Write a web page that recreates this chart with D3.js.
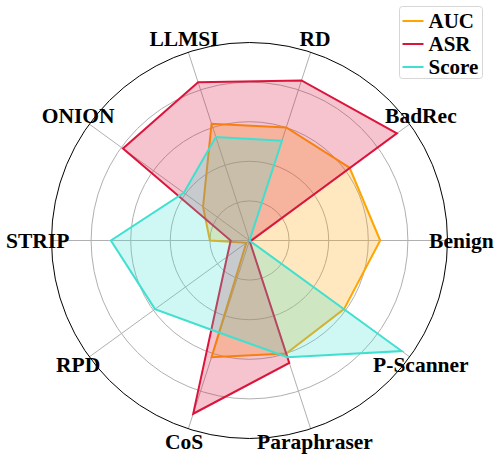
<!DOCTYPE html>
<html>
<head>
<meta charset="utf-8">
<script src="https://cdn.jsdelivr.net/npm/d3@7"></script>
<style>
  body { margin: 0; background: #fff; }
  svg text { font-family: "Liberation Serif", "Times New Roman", serif; font-weight: bold; }
</style>
</head>
<body>
<svg width="499" height="457"></svg>
<script>
// axes, counter-clockwise starting at the right
var categories = ["Benign", "BadRec", "RD", "LLMSI", "ONION", "STRIP", "RPD", "CoS", "Paraphraser", "P-Scanner"];
var auc   = [0.66, 0.625, 0.60, 0.62, 0.29, 0.20, 0.02, 0.62, 0.60, 0.59];
var asr   = [0.01, 0.92, 0.85, 0.84, 0.79, 0.095, 0.14, 0.92, 0.65, 0.0];
var score = [0.0, 0.0, 0.53, 0.55, 0.41, 0.70, 0.59, 0.49, 0.62, 0.95];
var rings = [0.2, 0.4, 0.6, 0.8];

var series = [
    {name: "AUC", values: auc, color: "#FFA500"},
    {name: "ASR", values: asr, color: "#DC143C"},
    {name: "Score", values: score, color: "#40E0D0"}
];

var svg = d3.select("svg"),
    cx = 249.5, cy = 240.5,
    R = 198,
    g = svg.append("g").attr("transform", "translate(" + cx + "," + cy + ")");

var r = d3.scaleLinear().domain([0, 1]).range([0, R]);
var angle = d3.scaleLinear().domain([0, categories.length]).range([0, 2 * Math.PI]);

function px(i, v) { return r(v) * Math.cos(angle(i)); }
function py(i, v) { return -r(v) * Math.sin(angle(i)); }

// grid
g.selectAll(".ring")
    .data(rings)
    .enter().append("circle")
    .attr("r", function(d) { return r(d); })
    .attr("fill", "none")
    .attr("stroke", "#b0b0b0")
    .attr("stroke-width", 1);

g.selectAll(".spoke")
    .data(categories)
    .enter().append("line")
    .attr("x1", 0).attr("y1", 0)
    .attr("x2", function(d, i) { return px(i, 1); })
    .attr("y2", function(d, i) { return py(i, 1); })
    .attr("stroke", "#b0b0b0")
    .attr("stroke-width", 1);

var line = d3.line()
    .x(function(d, i) { return px(i, d); })
    .y(function(d, i) { return py(i, d); })
    .curve(d3.curveLinearClosed);

series.forEach(function(s) {
    g.append("path")
        .attr("d", line(s.values))
        .attr("fill", s.color)
        .attr("fill-opacity", 0.25)
        .attr("stroke", s.color)
        .attr("stroke-width", 2)
        .attr("stroke-linejoin", "miter");
});

// outer frame
g.append("circle")
    .attr("r", r(1))
    .attr("fill", "none")
    .attr("stroke", "#000")
    .attr("stroke-width", 1);

// axis labels
g.selectAll(".label")
    .data(categories)
    .enter().append("text")
    .attr("x", function(d, i) { return px(i, 1.07); })
    .attr("y", function(d, i) { return py(i, 1.07); })
    .attr("dy", "0.33em")
    .attr("text-anchor", "middle")
    .style("font-size", "21.5px")
    .text(function(d) { return d; });

// legend
var legend = svg.append("g").attr("transform", "translate(399.5,6.5)");
legend.append("rect")
    .attr("width", 83).attr("height", 72)
    .attr("rx", 3)
    .attr("fill", "#fff").attr("fill-opacity", 0.8)
    .attr("stroke", "#d6d6d6");

var item = legend.selectAll(".item")
    .data(series)
    .enter().append("g")
    .attr("transform", function(d, i) { return "translate(0," + (14.5 + i * 23) + ")"; });
item.append("line")
    .attr("x1", 3).attr("x2", 24)
    .attr("stroke", function(d) { return d.color; })
    .attr("stroke-width", 2);
item.append("text")
    .attr("x", 29)
    .attr("dy", "0.33em")
    .style("font-size", "21px")
    .text(function(d) { return d.name; });
</script>
</body>
</html>
